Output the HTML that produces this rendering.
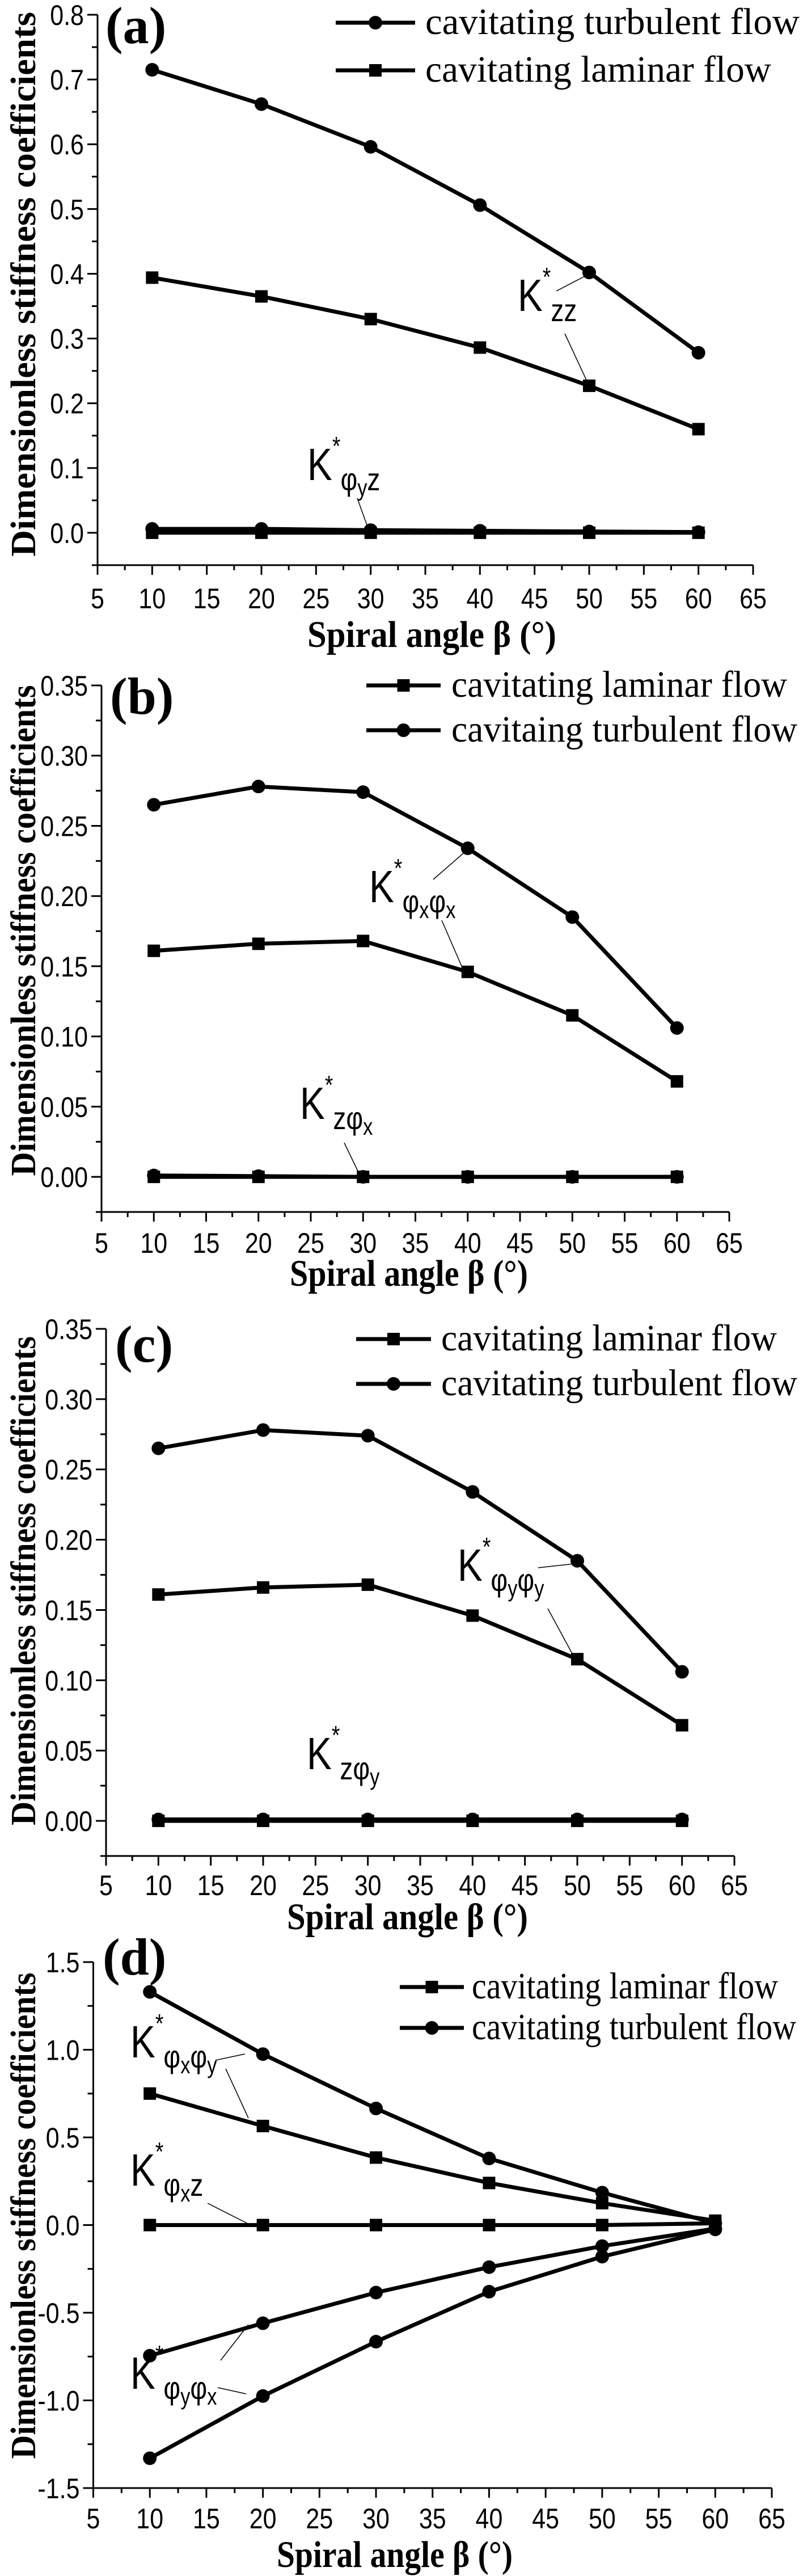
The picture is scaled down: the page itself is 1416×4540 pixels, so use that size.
<!DOCTYPE html>
<html><head><meta charset="utf-8"><style>
html,body{margin:0;padding:0;background:#fff;}
svg{display:block;}
.tk{font-family:"Liberation Sans",sans-serif;font-size:50px;fill:#000;}
.lg{font-family:"Liberation Serif",serif;font-size:66px;fill:#000;}
.ttl{font-family:"Liberation Serif",serif;font-weight:bold;fill:#000;}
.an{font-family:"Liberation Sans",sans-serif;fill:#000;}
</style></head><body>
<svg id="fig" xmlns="http://www.w3.org/2000/svg" width="1416" height="4540" viewBox="0 0 1416 4540">
<rect x="0" y="0" width="1416" height="4540" fill="#fff"/>
</svg>
<script>
const xCats=[10,20,30,40,50,60];
const aTurb=[0.715,0.662,0.596,0.506,0.402,0.278];
const aLam=[0.394,0.365,0.330,0.286,0.227,0.160];
const aTurbZ=[0.006,0.006,0.004,0.003,0.002,0.001];
const aLamZ=[0,0,0,0,0,0];
const bTurb=[0.265,0.278,0.274,0.234,0.185,0.106];
const bLam=[0.161,0.166,0.168,0.146,0.115,0.068];
const bTurbZ=[0.001,0.0005,0,0,0,0];
const bLamZ=[0,0,0,0,0,0];
const cTurb=[0.265,0.278,0.274,0.234,0.185,0.106];
const cLam=[0.161,0.166,0.168,0.146,0.115,0.068];
const cTurbZ=[0.001,0.001,0.001,0.001,0.001,0.001];
const cLamZ=[0,0,0,0,0,0];
const dTurb=[1.33,0.975,0.665,0.38,0.185,0.01];
const dLam=[0.75,0.565,0.385,0.24,0.125,0.025];
const dZero=[0,0,0,0,0,0.01];
const dNegLam=[-0.745,-0.56,-0.385,-0.24,-0.12,-0.02];
const dNegTurb=[-1.33,-0.975,-0.665,-0.38,-0.18,-0.025];
const xTickLabels=['5','10','15','20','25','30','35','40','45','50','55','60','65'];
const aYTicks=['0.0','0.1','0.2','0.3','0.4','0.5','0.6','0.7','0.8'];
const bYTicks=['0.00','0.05','0.10','0.15','0.20','0.25','0.30','0.35'];
const dYTicks=['-1.5','-1.0','-0.5','0.0','0.5','1.0','1.5'];

const NS='http://www.w3.org/2000/svg';
const svg=document.getElementById('fig');
function mk(tag,attrs,parent){const e=document.createElementNS(NS,tag);for(const k in attrs)e.setAttribute(k,attrs[k]);(parent||svg).appendChild(e);return e;}
function squeeze(t,f){const n=t.getComputedTextLength();t.setAttribute('textLength',(n*f).toFixed(1));t.setAttribute('lengthAdjust','spacingAndGlyphs');}
function fit(t,w){t.setAttribute('textLength',w);t.setAttribute('lengthAdjust','spacingAndGlyphs');}

function panel(P){
  const g=mk('g',{});
  
  
  const xs=v=>P.x5+(v-5)/60*(P.x65-P.x5);
  const ys=v=>P.yTop+(P.ymax-v)/(P.ymax-P.ymin)*(P.yBot-P.yTop);
  const ax=mk('path',{d:`M${P.x5} ${P.yTop}V${P.yBot}H${P.x65}`,fill:'none',stroke:'#000','stroke-width':3},g);
  
  
  for(let v=5;v<=65.01;v+=2.5){
    const maj=Math.abs(v%5)<0.01;
    mk('line',{x1:xs(v),x2:xs(v),y1:P.yBot,y2:P.yBot+(maj?17:9),stroke:'#000','stroke-width':3},g);
  }
  xTickLabels.forEach(s=>{
    const t=mk('text',{x:xs(+s),y:P.xlabY,'text-anchor':'middle','class':'tk'},g);
    t.textContent=s;
    
    
    squeeze(t,0.86);
  });
  const st=P.ystep/2;
  for(let v=P.ymin;v<=P.ymax+1e-9;v+=st){
    const k=Math.round((v-P.ymin)/st);
    const vv=P.ymin+k*st;
    const maj=Math.abs(Math.round(vv/P.ystep)*P.ystep-vv)<1e-6;
    mk('line',{x1:P.x5,x2:P.x5-(maj?18:10),y1:ys(vv),y2:ys(vv),stroke:'#000','stroke-width':3},g);
  }
  P.yticks.forEach(s=>{
    const t=mk('text',{x:P.x5-24,y:ys(+s)+18,'text-anchor':'end','class':'tk'},g);
    t.textContent=s;
    
    
    squeeze(t,0.86);
  });
  P.series.forEach(S=>{
    const pts=S.vals.map((v,i)=>xs(xCats[i]).toFixed(1)+','+ys(v).toFixed(1)).join(' ');
    const pl=mk('polyline',{points:pts,fill:'none',stroke:'#000','stroke-width':7,'stroke-linejoin':'round'},g);
    
    
    S.vals.forEach((v,i)=>{
      let m;
      if(S.mark==='c') m=mk('circle',{cx:xs(xCats[i]),cy:ys(v),r:12,fill:'#000'},g);
      else m=mk('rect',{x:xs(xCats[i])-11,y:ys(v)-11,width:22,height:22,fill:'#000'},g);
      
      
    });
  });
  P.legend.forEach(L=>{
    const lg=mk('g',{},g);
    
    
    mk('line',{x1:P.lgX1,x2:P.lgX2,y1:L.y,y2:L.y,stroke:'#000','stroke-width':7},lg);
    const cx=(P.lgX1+P.lgX2)/2;
    if(L.mark==='c') mk('circle',{cx:cx,cy:L.y,r:12,fill:'#000'},lg);
    else mk('rect',{x:cx-11,y:L.y-11,width:22,height:22,fill:'#000'},lg);
    const t=mk('text',{x:P.lgT,y:L.y+20,'class':'lg'},lg);
    t.textContent=L.text;
    fit(t,L.w);
  });
  const pl=mk('text',{x:P.lbX,y:P.lbY,'class':'ttl','font-size':92},g);
  pl.textContent='('+P.id+')';
  
  
  const xt=mk('text',{x:P.xtX1,y:P.xtY,'class':'ttl','font-size':66},g);
  xt.textContent='Spiral angle β (°)';
  
  
  fit(xt,P.xtX2-P.xtX1);
  const yt=mk('text',{x:0,y:0,'class':'ttl','font-size':62,'text-anchor':'middle',transform:`translate(62 ${P.ytC}) rotate(-90)`},g);
  yt.textContent='Dimensionless stiffness coefficients';
  
  
  fit(yt,P.ytL);
  P.ann.forEach(A=>{
    const ag=mk('g',{},g);
    
    
    const t=mk('text',{x:A.x,y:A.y,'class':'an','font-size':80,transform:`translate(${A.x} 0) scale(0.82 1) translate(${-A.x} 0)`},ag);
    t.innerHTML=`K<tspan font-size="46" dy="-44">*</tspan><tspan font-size="56" dy="62">${A.sub}</tspan>`;
    A.lines.forEach(l=>mk('line',{x1:l[0],y1:l[1],x2:l[2],y2:l[3],stroke:'#000','stroke-width':1.5},ag));
  });
}

panel({id:'a',x5:172,x65:1328,yTop:26,yBot:996,ymin:-0.05,ymax:0.8,ystep:0.1,yticks:aYTicks,xlabY:1072,
  series:[{name:'kzz-turbulent',vals:aTurb,mark:'c'},{name:'kzz-laminar',vals:aLam,mark:'s'},
          {name:'kphiyz-turbulent',vals:aTurbZ,mark:'c'},{name:'kphiyz-laminar',vals:aLamZ,mark:'s'}],
  lgX1:592,lgX2:732,lgT:750,legend:[{y:40,mark:'c',text:'cavitating turbulent flow',w:660},{y:124,mark:'s',text:'cavitating laminar flow',w:610}],
  lbX:186,lbY:76,xtX1:542,xtX2:981,xtY:1140,ytC:501,ytL:960,
  ann:[{x:913,y:548,sub:'zz',lines:[[981,513,1031,487],[996,588,1036,674]]},
       {x:542,y:846,sub:'φ<tspan font-size="42" dy="10">y</tspan><tspan dy="-10">z</tspan>',lines:[[630,878,648,928]]}]});

panel({id:'b',x5:179,x65:1286,yTop:1208,yBot:2136,ymin:-0.025,ymax:0.35,ystep:0.05,yticks:bYTicks,xlabY:2208,
  series:[{name:'kphixphix-turbulent',vals:bTurb,mark:'c'},{name:'kphixphix-laminar',vals:bLam,mark:'s'},
          {name:'kzphix-turbulent',vals:bTurbZ,mark:'c'},{name:'kzphix-laminar',vals:bLamZ,mark:'s'}],
  lgX1:646,lgX2:777,lgT:796,legend:[{y:1208,mark:'s',text:'cavitating laminar flow',w:592},{y:1287,mark:'c',text:'cavitaing turbulent flow',w:610}],
  lbX:194,lbY:1258,xtX1:511,xtX2:931,xtY:2266,ytC:1640,ytL:865,
  ann:[{x:651,y:1590,sub:'φ<tspan font-size="42" dy="10">x</tspan><tspan dy="-10">φ</tspan><tspan font-size="42" dy="10">x</tspan>',lines:[[764,1550,818,1503],[779,1622,818,1712]]},
       {x:529,y:1972,sub:'zφ<tspan font-size="42" dy="10">x</tspan>',lines:[[607,2014,633,2068]]}]});

panel({id:'c',x5:187,x65:1295,yTop:2342,yBot:3271,ymin:-0.025,ymax:0.35,ystep:0.05,yticks:bYTicks,xlabY:3340,
  series:[{name:'kphiyphiy-turbulent',vals:cTurb,mark:'c'},{name:'kphiyphiy-laminar',vals:cLam,mark:'s'},
          {name:'kzphiy-turbulent',vals:cTurbZ,mark:'c'},{name:'kzphiy-laminar',vals:cLamZ,mark:'s'}],
  lgX1:628,lgX2:760,lgT:778,legend:[{y:2360,mark:'s',text:'cavitating laminar flow',w:592},{y:2439,mark:'c',text:'cavitating turbulent flow',w:628}],
  lbX:203,lbY:2400,xtX1:506,xtX2:931,xtY:3400,ytC:2786,ytL:862,
  ann:[{x:807,y:2786,sub:'φ<tspan font-size="42" dy="10">y</tspan><tspan dy="-10">φ</tspan><tspan font-size="42" dy="10">y</tspan>',lines:[[949,2763,1013,2756],[966,2835,1011,2918]]},
       {x:541,y:3118,sub:'zφ<tspan font-size="42" dy="10">y</tspan>',lines:[]}]});

panel({id:'d',x5:164.5,x65:1361,yTop:3458,yBot:4385,ymin:-1.5,ymax:1.5,ystep:0.5,yticks:dYTicks,xlabY:4456,
  series:[{name:'kphixphiy-turbulent',vals:dTurb,mark:'c'},{name:'kphixphiy-laminar',vals:dLam,mark:'s'},
          {name:'kphixz',vals:dZero,mark:'s'},
          {name:'kphiyphix-laminar',vals:dNegLam,mark:'c'},{name:'kphiyphix-turbulent',vals:dNegTurb,mark:'c'}],
  lgX1:705,lgX2:818,lgT:832,legend:[{y:3502,mark:'s',text:'cavitating laminar flow',w:540},{y:3574,mark:'c',text:'cavitating turbulent flow',w:572}],
  lbX:181,lbY:3480,xtX1:488,xtX2:904,xtY:4524,ytC:3905,ytL:857,
  ann:[{x:230,y:3626,sub:'φ<tspan font-size="42" dy="10">x</tspan><tspan dy="-10">φ</tspan><tspan font-size="42" dy="10">y</tspan>',lines:[[380,3631,432,3620],[398,3646,438,3733]]},
       {x:230,y:3852,sub:'φ<tspan font-size="42" dy="10">x</tspan><tspan dy="-10">z</tspan>',lines:[[366,3883,441,3921]]},
       {x:230,y:4210,sub:'φ<tspan font-size="42" dy="10">y</tspan><tspan dy="-10">φ</tspan><tspan font-size="42" dy="10">x</tspan>',lines:[[389,4160,438,4097],[384,4208,434,4219]]}]});
</script>
</body></html>
